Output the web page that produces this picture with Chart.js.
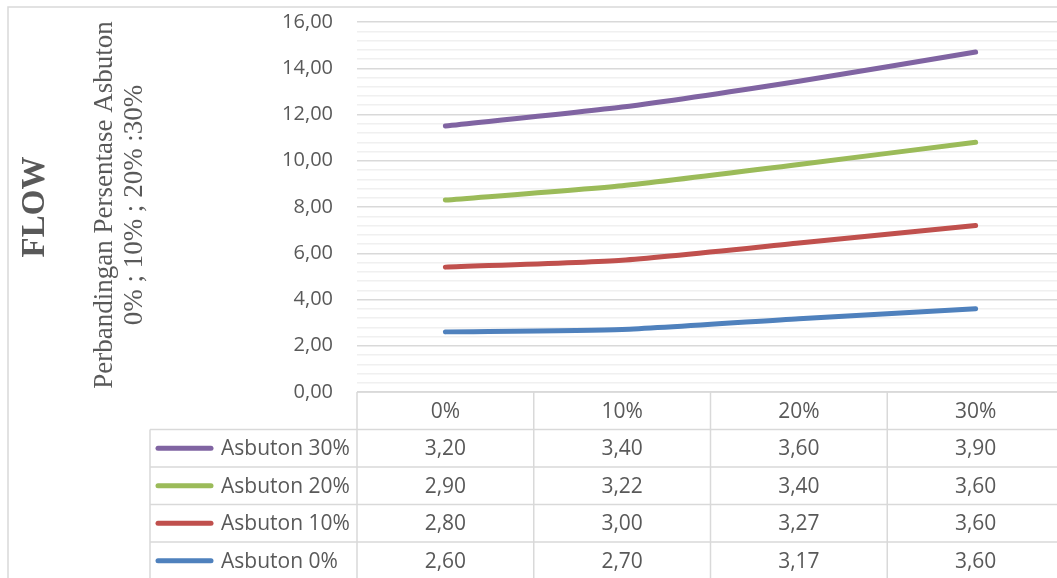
<!DOCTYPE html>
<html>
<head>
<meta charset="utf-8">
<script src="https://cdn.jsdelivr.net/npm/chart.js@4"></script>
<style>
  html, body { margin: 0; padding: 0; background: #fff; overflow: hidden; }
  #wrap { position: relative; width: 1064px; height: 578px; }
</style>
</head>
<body>
<div id="wrap"><canvas id="chartFlow" width="1064" height="578"></canvas></div>
<script>
// categorias (kadar asbuton) y valores de flow por serie
const categorias = ["0%", "10%", "20%", "30%"];
const asbuton0 = [2.60, 2.70, 3.17, 3.60];
const asbuton10 = [2.80, 3.00, 3.27, 3.60];
const asbuton20 = [2.90, 3.22, 3.40, 3.60];
const asbuton30 = [3.20, 3.40, 3.60, 3.90];
const yTicks = ["0,00", "2,00", "4,00", "6,00", "8,00", "10,00", "12,00", "14,00", "16,00"];

const series = [
  { label: "Asbuton 0%", data: asbuton0, color: "#4F81BD" },
  { label: "Asbuton 10%", data: asbuton10, color: "#C0504D" },
  { label: "Asbuton 20%", data: asbuton20, color: "#9BBB59" },
  { label: "Asbuton 30%", data: asbuton30, color: "#8064A2" }
];

const GRIS = "#595959";
const BORDE = "#d9d9d9";
const FUENTE = "'Open Sans', sans-serif";
const fmt = v => v.toFixed(2).replace(".", ",");

/* ===========================================
          TITULOS LATERALES + MARCO
=========================================== */
const titulosPlugin = {
  id: "titulos",
  beforeDraw(chart) {
    const ctx = chart.ctx;
    ctx.save();
    ctx.strokeStyle = BORDE;
    ctx.lineWidth = 1.5;
    ctx.beginPath();
    ctx.moveTo(8, chart.height);
    ctx.lineTo(8, 7);
    ctx.lineTo(chart.width, 7);
    ctx.stroke();

    ctx.fillStyle = GRIS;
    ctx.textAlign = "center";
    ctx.textBaseline = "middle";

    ctx.translate(35, 207);
    ctx.rotate(-Math.PI / 2);
    ctx.font = "bold 33px 'Liberation Serif', serif";
    ctx.fillText("FLOW", 0, 0);
    ctx.restore();

    ctx.save();
    ctx.fillStyle = GRIS;
    ctx.textAlign = "center";
    ctx.textBaseline = "middle";
    ctx.translate(120, 205);
    ctx.rotate(-Math.PI / 2);
    ctx.font = "27px 'Liberation Serif', serif";
    ctx.fillText("Perbandingan Persentase Asbuton", 0, -15);
    ctx.fillText("0% ; 10% ; 20% :30%", 0, 15);
    ctx.restore();
  }
};

/* ===========================================
              TABLA DE DATOS
=========================================== */
const tablaPlugin = {
  id: "tabla",
  afterDraw(chart) {
    const ctx = chart.ctx;
    const x = chart.scales.x;
    const area = chart.chartArea;
    const top = area.bottom;
    const filaH = 37.5;
    const colW = (area.right - area.left) / categorias.length;
    const leyendaX = 150;
    const filas = series.slice().reverse();

    ctx.save();
    ctx.strokeStyle = BORDE;
    ctx.lineWidth = 1.5;
    ctx.beginPath();
    // lineas horizontales
    ctx.moveTo(area.left, top);
    ctx.lineTo(chart.width, top);
    for (let r = 1; r <= filas.length; r++) {
      const y = top + r * filaH;
      ctx.moveTo(leyendaX, y);
      ctx.lineTo(chart.width, y);
    }
    // lineas verticales
    for (let c = 0; c < categorias.length; c++) {
      const xx = area.left + c * colW;
      ctx.moveTo(xx, top);
      ctx.lineTo(xx, chart.height);
    }
    ctx.moveTo(leyendaX, top + filaH);
    ctx.lineTo(leyendaX, chart.height);
    ctx.stroke();

    ctx.fillStyle = GRIS;
    ctx.font = "21px " + FUENTE;
    ctx.textBaseline = "middle";
    ctx.textAlign = "center";
    categorias.forEach((cat, i) => {
      ctx.fillText(cat, x.getPixelForTick(i), top + filaH / 2 + 1);
    });

    filas.forEach((s, r) => {
      const yc = top + filaH * (r + 1.5) + 1;
      ctx.strokeStyle = s.color;
      ctx.lineWidth = 5;
      ctx.lineCap = "round";
      ctx.beginPath();
      ctx.moveTo(158, yc - 1);
      ctx.lineTo(211, yc - 1);
      ctx.stroke();

      ctx.fillStyle = GRIS;
      ctx.textAlign = "left";
      ctx.fillText(s.label, 221, yc);
      ctx.textAlign = "center";
      s.data.forEach((v, i) => {
        ctx.fillText(fmt(v), x.getPixelForTick(i), yc);
      });
    });
    ctx.restore();
  }
};

/* ===========================================
          GRAFICA: FLOW (Chart.js)
=========================================== */
function renderGraficaFlow() {
  const ctx = document.getElementById("chartFlow");

  new Chart(ctx, {
    type: "line",
    data: {
      labels: categorias,
      datasets: series.map(s => ({
        label: s.label,
        data: s.data,
        borderColor: s.color,
        backgroundColor: s.color,
        borderWidth: 5,
        borderCapStyle: "round",
        borderJoinStyle: "round",
        pointRadius: 0,
        tension: 0.2,
        fill: false
      }))
    },
    options: {
      responsive: false,
      animation: false,
      layout: { padding: { left: 0, top: 22, right: 0, bottom: 578 - 392 } },
      plugins: {
        legend: { display: false },
        tooltip: { enabled: false }
      },
      scales: {
        x: {
          type: "category",
          offset: true,
          display: false
        },
        y: {
          stacked: true,
          min: 0,
          max: 16,
          afterFit: s => {
            s.width = 357;
            s.paddingTop = 0;
            s.paddingBottom = 0;
          },
          border: { display: false },
          grid: {
            drawTicks: false,
            lineWidth: 1.5,
            color: c => (Math.abs(c.tick.value / 2 - Math.round(c.tick.value / 2)) < 1e-6 ? "#d9d9d9" : "#f0f0f0")
          },
          ticks: {
            stepSize: 0.4,
            autoSkip: false,
            padding: 24,
            color: GRIS,
            font: { family: "'Open Sans', sans-serif", size: 20 },
            callback: v => {
              const k = v / 2;
              if (Math.abs(k - Math.round(k)) > 1e-6) return "";
              return yTicks[Math.round(k)];
            }
          }
        }
      }
    },
    plugins: [titulosPlugin, tablaPlugin]
  });
}

renderGraficaFlow();
</script>
</body>
</html>
